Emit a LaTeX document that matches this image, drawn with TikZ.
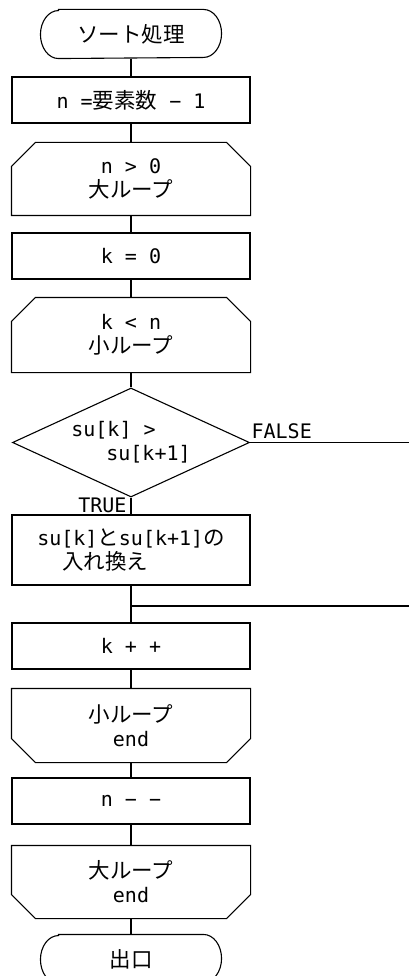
\documentclass[tikz,border=0pt]{standalone}
\usepackage{fontspec}
\setmainfont{DejaVu Sans Mono}
\newfontfamily\jpfont{Noto Sans CJK JP}
\usetikzlibrary{shapes.geometric}
\newcommand{\jp}[1]{{\jpfont\fontsize{21.5}{24}\selectfont #1}}
\newcommand{\termshape}[1]{\draw ([xshift=18pt]#1.north west) -- ([xshift=-18pt]#1.north east) arc[start angle=90,end angle=-90,x radius=18pt,y radius=24pt] -- ([xshift=18pt]#1.south west) arc[start angle=270,end angle=90,x radius=18pt,y radius=24pt] -- cycle;}
\newcommand{\looptop}[1]{\draw (#1.south west) -- ([yshift=-24pt]#1.north west) -- ([xshift=24pt]#1.north west) -- ([xshift=-24pt]#1.north east) -- ([yshift=-24pt]#1.north east) -- (#1.south east) -- cycle;}
\newcommand{\loopbot}[1]{\draw (#1.north west) -- ([yshift=24pt]#1.south west) -- ([xshift=24pt]#1.south west) -- ([xshift=-24pt]#1.south east) -- ([yshift=24pt]#1.south east) -- (#1.north east) -- cycle;}
\begin{document}
\begin{tikzpicture}[x=1pt,y=-1pt,line width=1.1pt,
  every node/.style={font=\fontsize{20}{24}\selectfont, inner sep=0pt},
  box/.style={draw, rectangle, minimum width=238pt, minimum height=46pt, align=center},
  frame/.style={rectangle, minimum width=238pt, align=center},
  term/.style={rectangle, minimum width=180pt, minimum height=48pt}]
\useasboundingbox (0,0) rectangle (409,976);
\node[term] (s) at (131,34) {\jp{ソート処理}};
\node[box] (r1) at (131,100) {n =\jp{要素数} − 1};
\node[frame, minimum height=72pt] (l1) at (131,179) {n > 0\\\jp{大ループ}};
\node[box] (r2) at (131,256) {k = 0};
\node[frame, minimum height=74pt] (l2) at (131,335) {k < n\\\jp{小ループ}};
\node[draw, diamond, minimum width=237pt, minimum height=109pt, aspect=2.17, align=left] (d) at (131,442.5) {su[k] >\\\hspace*{35pt}su[k+1]};
\node[box, minimum height=70pt, align=left] (r3) at (131,550) {su[k]\jp{と}su[k+1]\jp{の}\\\hspace*{25pt}\jp{入れ換え}};
\coordinate (j) at (131,606);
\node[box] (r4) at (131,646) {k + +};
\node[frame, minimum height=73pt] (l3) at (131,725.5) {\jp{小ループ}\\end};
\node[box] (r5) at (131,801) {n − −};
\node[frame, minimum height=72pt] (l4) at (131,882) {\jp{大ループ}\\end};
\node[term] (e) at (131,959) {\jp{出口}};
\coordinate (fx) at (409,442.5);
\coordinate (jx) at (409,606);
\termshape{s}
\termshape{e}
\looptop{l1}
\looptop{l2}
\loopbot{l3}
\loopbot{l4}
\draw (s) -- (r1);
\draw (r1) -- (l1);
\draw (l1) -- (r2);
\draw (r2) -- (l2);
\draw (l2) -- (d);
\draw (d) -- (r3);
\node[anchor=north east, xshift=-4pt] (t) at (d.south) {TRUE};
\draw (d.east) -- node[pos=0, anchor=south west, xshift=1pt, yshift=3pt] (f) {FALSE} (fx);
\draw (r3) -- (r4);
\draw (j) -- (jx);
\draw (r4) -- (l3);
\draw (l3) -- (r5);
\draw (r5) -- (l4);
\draw (l4) -- (e);
\end{tikzpicture}
\end{document}
